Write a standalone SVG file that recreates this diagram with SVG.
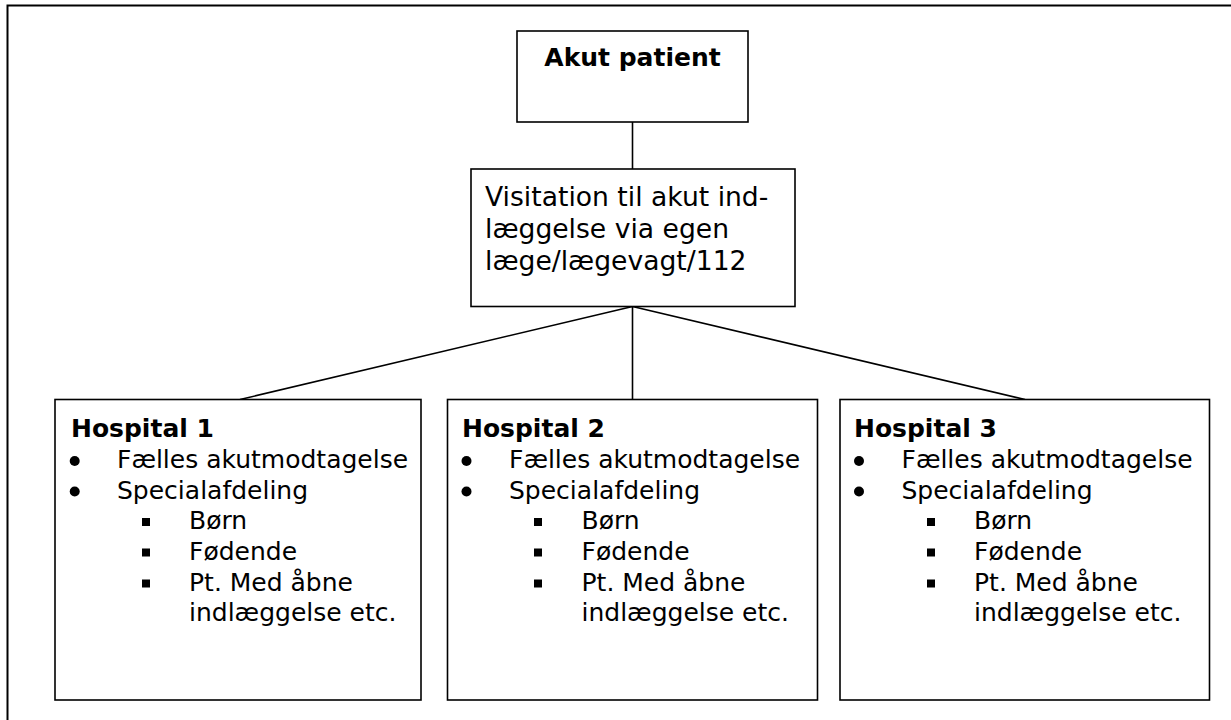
<svg xmlns="http://www.w3.org/2000/svg" width="1231" height="720" viewBox="0 0 1231 720">
<style>
.box{fill:#fff;stroke:#000;stroke-width:1.6}
.t{font-family:"DejaVu Sans",Verdana,sans-serif;font-size:25px;fill:#000}
.v{font-size:26.6px}
.b{font-weight:bold}
.conn line{stroke:#000;stroke-width:1.6}
</style>
<defs>
<circle id="dot" r="5" fill="#000"/>
<rect id="sq" x="-4" y="-4" width="8" height="8" fill="#000"/>
</defs>
<rect x="7.5" y="5.5" width="1240" height="730" fill="#fff" stroke="#000" stroke-width="2"/>
<g class="conn">
<line x1="632.5" y1="122" x2="632.5" y2="169"/>
<line x1="632.5" y1="306.5" x2="240" y2="399.5"/>
<line x1="632.5" y1="306.5" x2="632.5" y2="399.5"/>
<line x1="632.5" y1="306.5" x2="1025" y2="399.5"/>
</g>
<g id="akut">
<rect class="box" x="517" y="31" width="231" height="91"/>
<text class="t b" x="632.5" y="66" text-anchor="middle" font-size="25.8">Akut patient</text>
</g>
<g id="visitation">
<rect class="box" x="471" y="169" width="324" height="137.5"/>
<text class="t v" x="485" y="206">Visitation til akut ind-</text>
<text class="t v" x="485" y="238">læggelse via egen</text>
<text class="t v" x="485" y="270">læge/lægevagt/112</text>
</g>
<g id="hospital1">
<rect class="box" x="55" y="399.5" width="366" height="300.5"/>
<text class="t b" x="71" y="437">Hospital 1</text>
<use href="#dot" x="74.7" y="461"/><text class="t" x="117" y="468">Fælles akutmodtagelse</text>
<use href="#dot" x="74.7" y="491.5"/><text class="t" x="117" y="498.5">Specialafdeling</text>
<use href="#sq" x="146" y="522"/><text class="t" x="189" y="529">Børn</text>
<use href="#sq" x="146" y="552.5"/><text class="t" x="189" y="559.5">Fødende</text>
<use href="#sq" x="146" y="583.5"/><text class="t" x="189" y="590.5">Pt. Med åbne</text>
<text class="t" x="189" y="620.5">indlæggelse etc.</text>
</g>
<g id="hospital2">
<rect class="box" x="447.5" y="399.5" width="370" height="300.5"/>
<text class="t b" x="462" y="437">Hospital 2</text>
<use href="#dot" x="466.5" y="461"/><text class="t" x="509" y="468">Fælles akutmodtagelse</text>
<use href="#dot" x="466.5" y="491.5"/><text class="t" x="509" y="498.5">Specialafdeling</text>
<use href="#sq" x="538" y="522"/><text class="t" x="581.5" y="529">Børn</text>
<use href="#sq" x="538" y="552.5"/><text class="t" x="581.5" y="559.5">Fødende</text>
<use href="#sq" x="538" y="583.5"/><text class="t" x="581.5" y="590.5">Pt. Med åbne</text>
<text class="t" x="581.5" y="620.5">indlæggelse etc.</text>
</g>
<g id="hospital3">
<rect class="box" x="840" y="399.5" width="369.5" height="300.5"/>
<text class="t b" x="854" y="437">Hospital 3</text>
<use href="#dot" x="859" y="461"/><text class="t" x="901.5" y="468">Fælles akutmodtagelse</text>
<use href="#dot" x="859" y="491.5"/><text class="t" x="901.5" y="498.5">Specialafdeling</text>
<use href="#sq" x="931" y="522"/><text class="t" x="974" y="529">Børn</text>
<use href="#sq" x="931" y="552.5"/><text class="t" x="974" y="559.5">Fødende</text>
<use href="#sq" x="931" y="583.5"/><text class="t" x="974" y="590.5">Pt. Med åbne</text>
<text class="t" x="974" y="620.5">indlæggelse etc.</text>
</g>
</svg>
